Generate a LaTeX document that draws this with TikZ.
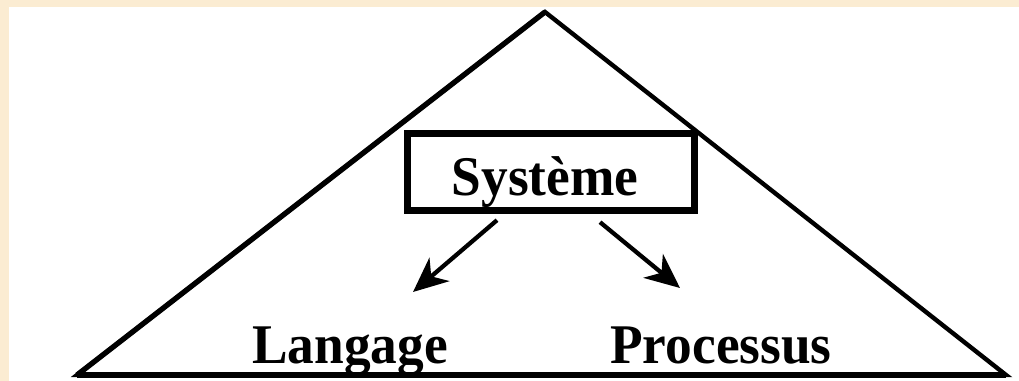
\documentclass[tikz,border=0pt]{standalone}
\usepackage{fontspec}
\setmainfont{Liberation Serif}
\usetikzlibrary{arrows.meta, calc}
\definecolor{parchemin}{RGB}{251,236,210}

\begin{document}
\begin{tikzpicture}[x=0.75pt, y=-0.75pt]
    % Fond
    \fill[parchemin] (0,0) rectangle (1019,381);
    \fill[white] (9,7) rectangle (1019,381);
    \useasboundingbox (0,0) rectangle (1019,381);

    % Triangle
    \coordinate (sommet) at (545,12);
    \coordinate (gauche) at (77,375);
    \coordinate (droite) at (1006,375);
    \draw[line width=3.3pt, line join=miter] (sommet) -- (gauche) -- (droite) -- cycle;
    \draw[line width=4pt] (sommet) -- (gauche);
    \draw[line width=4.8pt] (gauche) -- (droite);

    % Système
    \node[draw, line width=5.25pt, minimum width=215pt, minimum height=58pt, inner sep=0pt] (systeme) at (551,172) {};
    \node[font=\fontsize{40}{40}\selectfont\bfseries, anchor=base, inner sep=0pt, yscale=1.05] (systexte) at (545,195) {Système};

    % Langage et Processus
    \node[font=\fontsize{40}{40}\selectfont\bfseries, anchor=base, inner sep=0pt, yscale=1.05] (langage) at (350,363) {Langage};
    \node[font=\fontsize{40}{40}\selectfont\bfseries, anchor=base, inner sep=0pt, yscale=1.05] (processus) at (721,363) {Processus};

    % Flèches
    \coordinate (finL) at (413,292);
    \coordinate (finP) at (680,288);
    \draw[-{Stealth[length=26pt, width=23pt, inset=8pt]}, line width=3.2pt] ($(systeme.south)+(-54,6)$) -- (finL);
    \draw[-{Stealth[length=26pt, width=23pt, inset=8pt]}, line width=3.2pt] ($(systeme.south)+(49,8)$) -- (finP);
\end{tikzpicture}
\end{document}
